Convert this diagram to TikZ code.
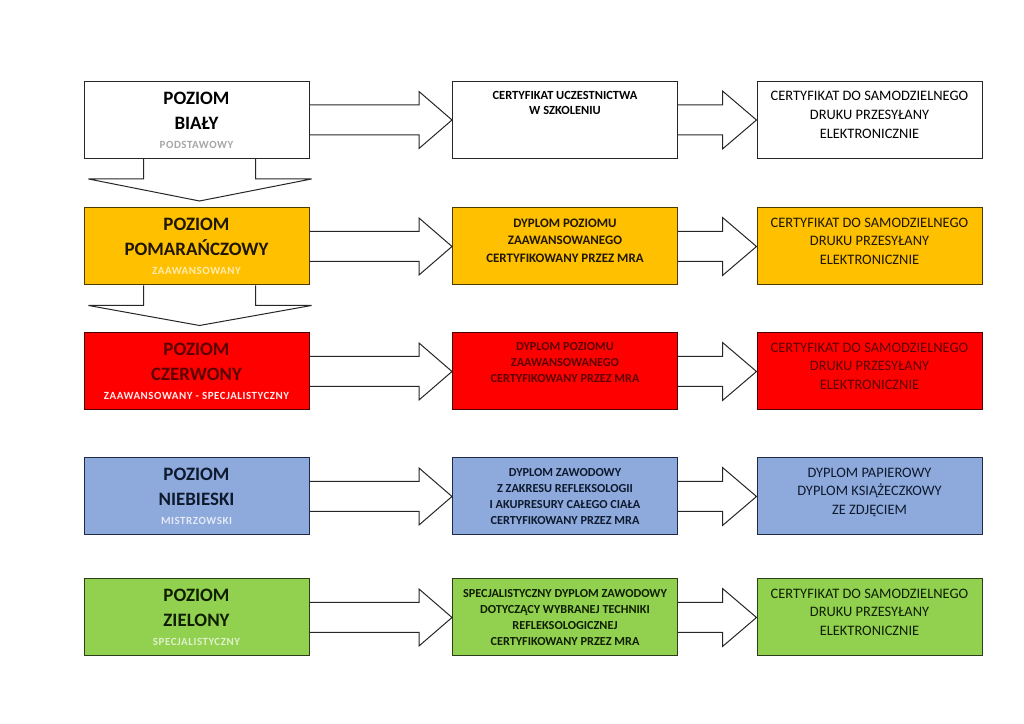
\documentclass[tikz,border=0pt]{standalone}
\usepackage{fontspec}
\setmainfont{Carlito}
\usepackage{tikz}
\usetikzlibrary{calc,positioning}
\definecolor{white1}{HTML}{FFFFFF}
\definecolor{orange1}{HTML}{FFC000}
\definecolor{red1}{HTML}{FF0000}
\definecolor{blue1}{HTML}{8EA9DB}
\definecolor{green1}{HTML}{92D050}
\definecolor{whiteline}{HTML}{262626}
\definecolor{orangeline}{HTML}{4D3A00}
\definecolor{redline}{HTML}{4D0000}
\definecolor{blueline}{HTML}{1F2A44}
\definecolor{greenline}{HTML}{2A3F1A}
\definecolor{orangetext}{HTML}{1F1700}
\definecolor{redtext}{HTML}{5C0000}
\definecolor{bluetext}{HTML}{0E1A2E}
\definecolor{greentext}{HTML}{0F1F00}
\newcommand{\levelsub}[2]{{\color{#1}\fontsize{11}{13}\selectfont\addfontfeature{LetterSpace=5}#2}}
\tikzstyle{level}=[draw,line width=1bp,minimum width=225bp,minimum height=77bp,align=center,inner sep=2bp,font=\bfseries\fontsize{19}{25}\selectfont]
\tikzstyle{diploma}=[draw,line width=1bp,minimum width=225bp,minimum height=77bp,align=center,inner sep=2bp,font=\bfseries\fontsize{12.3}{16}\selectfont]
\tikzstyle{cert}=[draw,line width=1bp,minimum width=225bp,minimum height=77bp,align=center,inner sep=2bp,text depth=10.5bp,font=\fontsize{14.5}{19}\selectfont]
\tikzstyle{blockarr}=[draw=whiteline,line width=1bp,line join=miter]

\begin{document}
\begin{tikzpicture}
	\useasboundingbox (0bp,0bp) rectangle (1024bp,724bp);
	%% levels
	\node (A1) at (196.5bp,604bp) [level,draw=whiteline,fill=white1] {POZIOM\\BIAŁY\\[-6bp]\levelsub{black!35}{PODSTAWOWY}};
	\node (A2) at (196.5bp,477.5bp) [level,draw=orangeline,fill=orange1,text=orangetext] {POZIOM\\POMARAŃCZOWY\\[-6bp]\levelsub{orange1!30}{ZAAWANSOWANY}};
	\node (A3) at (196.5bp,352.5bp) [level,draw=redline,fill=red1,text=redtext] {POZIOM\\CZERWONY\\[-6bp]\levelsub{red1!8}{ZAAWANSOWANY - SPECJALISTYCZNY}};
	\node (A4) at (196.5bp,227.5bp) [level,draw=blueline,fill=blue1,text=bluetext] {POZIOM\\NIEBIESKI\\[-6bp]\levelsub{blue1!25}{MISTRZOWSKI}};
	\node (A5) at (196.5bp,106.5bp) [level,draw=greenline,fill=green1,text=greentext] {POZIOM\\ZIELONY\\[-6bp]\levelsub{green1!30}{SPECJALISTYCZNY}};
	%% diplomas
	\node (B1) at (565bp,604bp) [diploma,draw=whiteline,fill=white1,font=\bfseries\fontsize{12.5}{15}\selectfont,text depth=34bp] {CERTYFIKAT UCZESTNICTWA\\W SZKOLENIU};
	\node (B2) at (565bp,477.5bp) [diploma,draw=orangeline,fill=orange1,text=orangetext,font=\bfseries\fontsize{13}{17.5}\selectfont,text depth=12bp] {DYPLOM POZIOMU\\ZAAWANSOWANEGO\\CERTYFIKOWANY PRZEZ MRA};
	\node (B3) at (565bp,352.5bp) [diploma,draw=redline,fill=red1,text=redtext,text depth=18bp] {DYPLOM POZIOMU\\ZAAWANSOWANEGO\\CERTYFIKOWANY PRZEZ MRA};
	\node (B4) at (565bp,227.5bp) [diploma,draw=blueline,fill=blue1,text=bluetext] {DYPLOM ZAWODOWY\\Z ZAKRESU REFLEKSOLOGII\\I AKUPRESURY CAŁEGO CIAŁA\\CERTYFIKOWANY PRZEZ MRA};
	\node (B5) at (565bp,106.5bp) [diploma,draw=greenline,fill=green1,text=greentext] {SPECJALISTYCZNY DYPLOM ZAWODOWY\\DOTYCZĄCY WYBRANEJ TECHNIKI\\REFLEKSOLOGICZNEJ\\CERTYFIKOWANY PRZEZ MRA};
	%% certificates
	\node (C1) at (869.5bp,604bp) [cert,draw=whiteline,fill=white1] {CERTYFIKAT DO SAMODZIELNEGO\\DRUKU PRZESYŁANY\\ELEKTRONICZNIE};
	\node (C2) at (869.5bp,477.5bp) [cert,draw=orangeline,fill=orange1,text=orangetext] {CERTYFIKAT DO SAMODZIELNEGO\\DRUKU PRZESYŁANY\\ELEKTRONICZNIE};
	\node (C3) at (869.5bp,352.5bp) [cert,draw=redline,fill=red1,text=redtext] {CERTYFIKAT DO SAMODZIELNEGO\\DRUKU PRZESYŁANY\\ELEKTRONICZNIE};
	\node (C4) at (869.5bp,227.5bp) [cert,draw=blueline,fill=blue1,text=bluetext] {DYPLOM PAPIEROWY\\DYPLOM KSIĄŻECZKOWY\\ZE ZDJĘCIEM};
	\node (C5) at (869.5bp,106.5bp) [cert,draw=greenline,fill=green1,text=greentext] {CERTYFIKAT DO SAMODZIELNEGO\\DRUKU PRZESYŁANY\\ELEKTRONICZNIE};
	%% level -> diploma
	\draw [blockarr] ($(A1.east)+(0,15bp)$) -- ($(B1.west)+(-33bp,15bp)$) -- ++(0,13.5bp) -- (B1.west) -- ++(-33bp,-28.5bp) -- ++(0,13.5bp) -- ($(A1.east)+(0,-15bp)$);
	\draw [blockarr] ($(A2.east)+(0,15bp)$) -- ($(B2.west)+(-33bp,15bp)$) -- ++(0,13.5bp) -- (B2.west) -- ++(-33bp,-28.5bp) -- ++(0,13.5bp) -- ($(A2.east)+(0,-15bp)$);
	\draw [blockarr] ($(A3.east)+(0,15bp)$) -- ($(B3.west)+(-33bp,15bp)$) -- ++(0,13.5bp) -- (B3.west) -- ++(-33bp,-28.5bp) -- ++(0,13.5bp) -- ($(A3.east)+(0,-15bp)$);
	\draw [blockarr] ($(A4.east)+(0,15bp)$) -- ($(B4.west)+(-33bp,15bp)$) -- ++(0,13.5bp) -- (B4.west) -- ++(-33bp,-28.5bp) -- ++(0,13.5bp) -- ($(A4.east)+(0,-15bp)$);
	\draw [blockarr] ($(A5.east)+(0,15bp)$) -- ($(B5.west)+(-33bp,15bp)$) -- ++(0,13.5bp) -- (B5.west) -- ++(-33bp,-28.5bp) -- ++(0,13.5bp) -- ($(A5.east)+(0,-15bp)$);
	%% diploma -> certificate
	\draw [blockarr] ($(B1.east)+(0,15bp)$) -- ($(C1.west)+(-34bp,15bp)$) -- ++(0,14bp) -- (C1.west) -- ++(-34bp,-29bp) -- ++(0,14bp) -- ($(B1.east)+(0,-15bp)$);
	\draw [blockarr] ($(B2.east)+(0,15bp)$) -- ($(C2.west)+(-34bp,15bp)$) -- ++(0,14bp) -- (C2.west) -- ++(-34bp,-29bp) -- ++(0,14bp) -- ($(B2.east)+(0,-15bp)$);
	\draw [blockarr] ($(B3.east)+(0,15bp)$) -- ($(C3.west)+(-34bp,15bp)$) -- ++(0,14bp) -- (C3.west) -- ++(-34bp,-29bp) -- ++(0,14bp) -- ($(B3.east)+(0,-15bp)$);
	\draw [blockarr] ($(B4.east)+(0,15bp)$) -- ($(C4.west)+(-34bp,15bp)$) -- ++(0,14bp) -- (C4.west) -- ++(-34bp,-29bp) -- ++(0,14bp) -- ($(B4.east)+(0,-15bp)$);
	\draw [blockarr] ($(B5.east)+(0,15bp)$) -- ($(C5.west)+(-34bp,15bp)$) -- ++(0,14bp) -- (C5.west) -- ++(-34bp,-29bp) -- ++(0,14bp) -- ($(B5.east)+(0,-15bp)$);
	%% level -> level
	\draw [blockarr] ($(A1.south)+(-53bp,0)$) -- ++(0,-20bp) -- ++(-55bp,0) -- ($(A1.south)+(3bp,-42bp)$) -- ($(A1.south)+(115bp,-20bp)$) -- ++(-56bp,0) -- ++(0,20bp);
	\draw [blockarr] ($(A2.south)+(-53bp,0)$) -- ++(0,-20bp) -- ++(-55bp,0) -- ($(A2.south)+(3bp,-40bp)$) -- ($(A2.south)+(115bp,-20bp)$) -- ++(-56bp,0) -- ++(0,20bp);
	%
\end{tikzpicture}
\end{document}
